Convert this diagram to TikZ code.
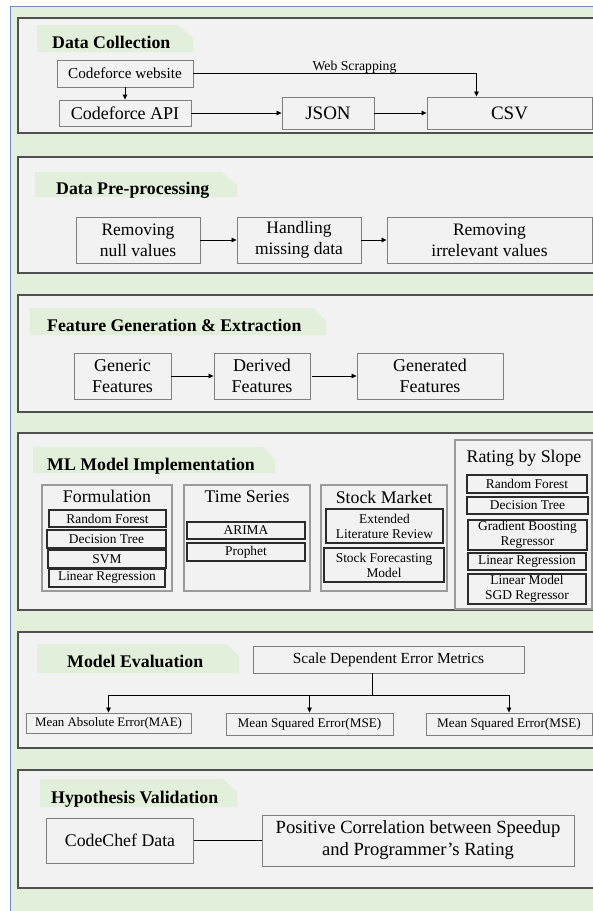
\documentclass[tikz,border=0pt]{standalone}
\usepackage{fontspec}
\setmainfont{Liberation Serif}
\usetikzlibrary{arrows.meta}
\definecolor{bggreen}{HTML}{E2EFDA}
\definecolor{framblue}{HTML}{6D8CBF}
\definecolor{panelfill}{HTML}{F2F2F2}
\definecolor{paneldraw}{HTML}{505050}
\definecolor{boxdraw}{HTML}{7F7F7F}
\definecolor{groupdraw}{HTML}{9A9A9A}
\definecolor{innerdraw}{HTML}{2B2B2B}
\begin{document}
\begin{tikzpicture}[x=1pt,y=-1pt,
 panel/.style={draw=paneldraw, fill=panelfill, line width=1.4pt},
 ttl/.style={font=\bfseries\fontsize{17.8}{20}\selectfont, anchor=base west, inner sep=0pt},
 box/.style={draw=boxdraw, line width=0.9pt, fill=panelfill, inner sep=0pt, align=center},
 grp/.style={draw=groupdraw, line width=1.3pt, fill=panelfill, inner sep=0pt},
 gttl/.style={font=\fontsize{17.8}{21}\selectfont, anchor=base, inner sep=0pt},
 inbox/.style={draw=innerdraw, line width=1.1pt, fill=panelfill, inner sep=0pt, align=center, font=\fontsize{13.4}{15}\selectfont},
 arr/.style={-{Triangle[length=5pt,width=4.5pt]}, line width=0.8pt},
 lnk/.style={line width=0.8pt},
]
\useasboundingbox (0,0) rectangle (593,911);
\fill[bggreen] (10,6) rectangle (600,920);
\draw[framblue, line width=1pt] (10,920) -- (10,6) -- (600,6);

% ---------- Data Collection
\draw[panel] (18,18) rectangle (640,133);
\fill[bggreen] (37,52) -- (37,25) -- (177,25) -- (193,38) -- (193,52) -- cycle;
\node[ttl] (t1) at (52,48) {Data Collection};
\node[box, minimum width=136pt, minimum height=27pt, font=\fontsize{15.2}{18}\selectfont] (web) at (125,73.5) {Codeforce website};
\node[box, minimum width=132pt, minimum height=26pt, font=\fontsize{18}{21}\selectfont] (api) at (125,113) {Codeforce API};
\node[box, minimum width=92pt, minimum height=32pt, font=\fontsize{19}{22}\selectfont] (json) at (328,113) {JSON};
\node[box, minimum width=165pt, minimum height=32pt, font=\fontsize{19}{22}\selectfont] (csv) at (509.5,113) {CSV};
\node[font=\fontsize{13.7}{16}\selectfont, inner sep=0pt] (ws) at (354.5,67) {Web Scrapping};
\draw[arr] (web.east) -| ([xshift=-33pt]csv.north);
\draw[arr] (web.south) -- (api.north);
\draw[arr] (api.east) -- (api.east -| json.west);
\draw[arr] (json.east) -- (csv.west);

% ---------- Data Pre-processing
\draw[panel] (18,157) rectangle (640,273);
\fill[bggreen] (35,197) -- (35,172) -- (222,172) -- (237,185) -- (237,197) -- cycle;
\node[ttl] (t2) at (56,194) {Data Pre-processing};
\node[box, minimum width=124pt, minimum height=46pt, font=\fontsize{17.5}{21}\selectfont] (nul) at (138,240) {Removing\\null values};
\node[box, minimum width=124pt, minimum height=46pt, font=\fontsize{17.5}{21}\selectfont] (hmd) at (299,240) {Handling\\missing data};
\node[box, minimum width=205pt, minimum height=46pt, font=\fontsize{17.5}{21}\selectfont] (irr) at (489.5,240) {Removing\\irrelevant values};
\draw[arr] (nul.east) -- (hmd.west);
\draw[arr] (hmd.east) -- (irr.west);

% ---------- Feature Generation
\draw[panel] (18,295) rectangle (640,412);
\fill[bggreen] (30,335) -- (30,308) -- (313,308) -- (326,321) -- (326,335) -- cycle;
\node[ttl] (t3) at (47,331) {Feature Generation \& Extraction};
\node[box, minimum width=97pt, minimum height=46pt, font=\fontsize{18}{21}\selectfont] (gen) at (122.5,376) {Generic\\Features};
\node[box, minimum width=96pt, minimum height=46pt, font=\fontsize{18}{21}\selectfont] (der) at (262,376) {Derived\\Features};
\node[box, minimum width=146pt, minimum height=46pt, font=\fontsize{18}{21}\selectfont] (gnd) at (430,376) {Generated\\Features};
\draw[arr] (gen.east) -- (der.west);
\draw[arr] ([xshift=2pt]der.east) -- (gnd.west);

% ---------- ML Model Implementation
\draw[panel] (18,433) rectangle (640,610);
\fill[bggreen] (33,473) -- (33,447) -- (263,447) -- (275,459) -- (275,473) -- cycle;
\node[ttl] (t4) at (47,470) {ML Model Implementation};
\node[grp, minimum width=130pt, minimum height=106pt] (gform) at (107,538) {};
\node[grp, minimum width=126pt, minimum height=106pt] (gts) at (247,538) {};
\node[grp, minimum width=126pt, minimum height=106pt] (gsm) at (384,538) {};
\node[grp, minimum width=137pt, minimum height=169pt] (grs) at (523.5,524.5) {};
\node[gttl] (tform) at (107,502) {Formulation};
\node[gttl] (tts) at (247,502) {Time Series};
\node[gttl] (tsm) at (384,503) {Stock Market};
\node[gttl] (trs) at (524,462) {Rating by Slope};
\node[inbox, minimum width=117pt, minimum height=17pt] (frf) at (107.5,518.5) {Random Forest};
\node[inbox, minimum width=119pt, minimum height=18pt] (fdt) at (106.5,539) {Decision Tree};
\node[inbox, minimum width=118pt, minimum height=18pt] (fsvm) at (107,559) {SVM};
\node[inbox, minimum width=116pt, minimum height=18pt] (flr) at (107,578) {Linear Regression};
\node[inbox, minimum width=118pt, minimum height=17pt] (arima) at (246,530.5) {ARIMA};
\node[inbox, minimum width=118pt, minimum height=18pt] (prophet) at (246,552) {Prophet};
\node[inbox, minimum width=117pt, minimum height=34pt] (elr) at (384.5,526) {Extended\\Literature Review};
\node[inbox, minimum width=120pt, minimum height=34pt] (sfm) at (384,565) {Stock Forecasting\\Model};
\node[inbox, minimum width=120pt, minimum height=18pt] (rrf) at (527,484) {Random Forest};
\node[inbox, minimum width=121pt, minimum height=17pt] (rdt) at (527.5,505.5) {Decision Tree};
\node[inbox, minimum width=119pt, minimum height=30pt] (rgb) at (527.5,535) {Gradient Boosting\\Regressor};
\node[inbox, minimum width=118pt, minimum height=17pt] (rlr) at (527,561.5) {Linear Regression};
\node[inbox, minimum width=118pt, minimum height=30pt] (rsgd) at (527,589) {Linear Model\\SGD Regressor};

% ---------- Model Evaluation
\draw[panel] (18,632) rectangle (640,748);
\fill[bggreen] (37,673) -- (37,644) -- (226,644) -- (239,656) -- (239,673) -- cycle;
\node[ttl] (t5) at (67,667) {Model Evaluation};
\node[box, minimum width=271pt, minimum height=27pt, font=\fontsize{15.4}{18}\selectfont] (sdem) at (388.5,659.5) {Scale Dependent Error Metrics};
\node[box, minimum width=165pt, minimum height=20pt, font=\fontsize{12.9}{15}\selectfont] (mae) at (108.5,723) {Mean Absolute Error(MAE)};
\node[box, minimum width=167pt, minimum height=22pt, font=\fontsize{13.2}{15}\selectfont] (mse) at (309.5,724) {Mean Squared Error(MSE)};
\node[box, minimum width=166pt, minimum height=22pt, font=\fontsize{13.2}{15}\selectfont] (msetwo) at (509,724) {Mean Squared Error(MSE)};
\coordinate (split) at (372,695);
\draw[lnk] (sdem.south -| split) -- (split);
\draw[lnk] (mae.north |- split) -- (msetwo.north |- split);
\draw[arr] (mae.north |- split) -- (mae.north);
\draw[arr] (mse.north |- split) -- (mse.north);
\draw[arr] (msetwo.north |- split) -- (msetwo.north);

% ---------- Hypothesis Validation
\draw[panel] (18,770) rectangle (640,888);
\fill[bggreen] (40,807) -- (40,779) -- (223,779) -- (237,792) -- (237,807) -- cycle;
\node[ttl] (t6) at (51,803) {Hypothesis Validation};
\node[box, minimum width=147pt, minimum height=45pt, font=\fontsize{17.8}{21}\selectfont] (cc) at (120,840.5) {CodeChef Data};
\node[box, minimum width=312pt, minimum height=51pt, font=\fontsize{18.6}{22}\selectfont] (pc) at (418,840.5) {Positive Correlation between Speedup\\and Programmer’s Rating};
\draw[lnk] (cc.east) -- (pc.west);
\end{tikzpicture}
\end{document}
